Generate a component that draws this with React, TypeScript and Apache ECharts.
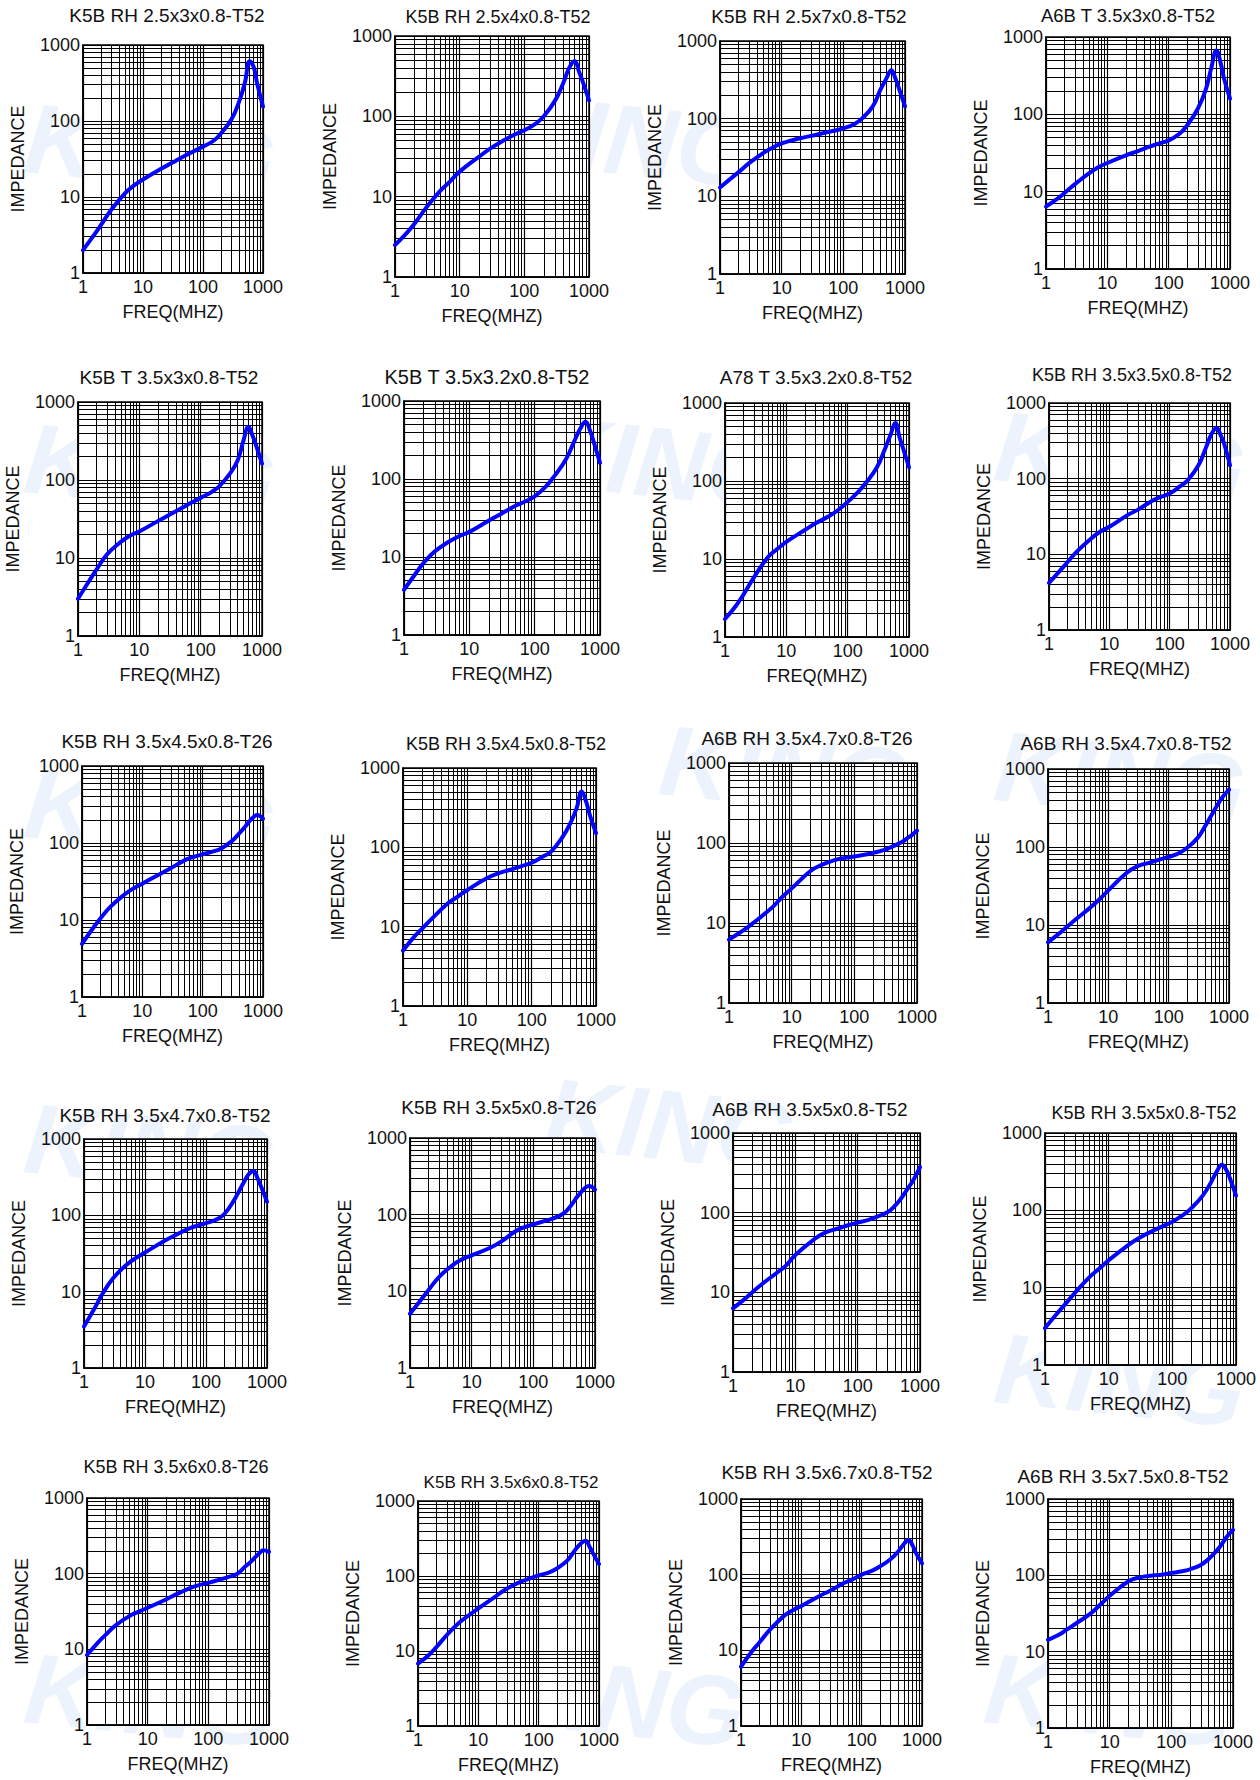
import React, { useEffect, useRef } from "react";
import * as echarts from "echarts";

// ---------- DATA ----------
const TITLES = [
  "K5B RH 2.5x3x0.8-T52",
  "K5B RH 2.5x4x0.8-T52",
  "K5B RH 2.5x7x0.8-T52",
  "A6B T 3.5x3x0.8-T52",
  "K5B T 3.5x3x0.8-T52",
  "K5B T 3.5x3.2x0.8-T52",
  "A78 T 3.5x3.2x0.8-T52",
  "K5B RH 3.5x3.5x0.8-T52",
  "K5B RH 3.5x4.5x0.8-T26",
  "K5B RH 3.5x4.5x0.8-T52",
  "A6B RH 3.5x4.7x0.8-T26",
  "A6B RH 3.5x4.7x0.8-T52",
  "K5B RH 3.5x4.7x0.8-T52",
  "K5B RH 3.5x5x0.8-T26",
  "A6B RH 3.5x5x0.8-T52",
  "K5B RH 3.5x5x0.8-T52",
  "K5B RH 3.5x6x0.8-T26",
  "K5B RH 3.5x6x0.8-T52",
  "K5B RH 3.5x6.7x0.8-T52",
  "A6B RH 3.5x7.5x0.8-T52",
];

const FREQ = [1, 1.5, 2, 3, 5, 7, 10, 20, 30, 50, 70, 100, 150, 200, 300, 400, 500, 600, 700, 800, 1000];

const Z1 = [2.0, 3.1, 4.3, 6.9, 11.2, 14.1, 17, 23.5, 28, 35, 40, 46, 55, 69, 106, 180, 320, 610, 510, 310, 155];
const Z2 = [2.5, 3.5, 4.6, 7.2, 11.8, 15.3, 20.5, 31.5, 40, 51, 59, 67, 81, 100, 158, 260, 410, 490, 360, 270, 158];
const Z3 = [13, 17, 20.5, 27, 36, 42, 48, 56, 60, 66, 70, 75, 85, 100, 144, 236, 330, 420, 328, 244, 144];
const Z4 = [6.4, 8, 9.6, 12.6, 17.2, 20.5, 23.5, 29.5, 33, 38.5, 42, 46, 56, 72, 119, 205, 410, 670, 470, 290, 160];
const Z5 = [3, 5, 7.1, 11.2, 16.1, 19.3, 21.9, 29.7, 35.4, 44, 51, 59, 70, 83, 121, 178, 323, 480, 372, 279, 162];
const Z6 = [3.8, 6.1, 8.4, 11.9, 15.9, 18.5, 21, 29.4, 35.4, 45, 51, 60, 81, 109, 178, 299, 443, 540, 422, 299, 161];
const Z7 = [1.7, 2.5, 3.5, 5.9, 10.5, 13.3, 16.6, 23.5, 28.7, 35.5, 42.5, 54, 73, 95.5, 150, 251, 392, 553, 366, 263, 150];
const Z8 = [4.2, 6.0, 7.8, 11.2, 16.2, 19.9, 23.1, 33, 39, 50.4, 57, 63.7, 79.6, 95.5, 150, 258, 397, 468, 375, 291, 150];
const Z9 = [4.9, 7.7, 10.4, 15, 21.3, 25.5, 29.6, 40, 47.3, 59.5, 65.8, 71.2, 78, 84.4, 105, 132, 161, 193, 218, 231, 207];
const Z10 = [5, 7.5, 9.5, 13.3, 19.7, 23.8, 29, 40.7, 47, 53, 58, 64, 76.5, 88.5, 134, 202, 312, 507, 379, 257, 151];
const Z11 = [6.2, 7.6, 8.9, 11.4, 15.9, 21, 27.1, 44.7, 53.2, 61.5, 65.1, 67.7, 71.7, 75.2, 82, 90, 97.5, 105, 115, 123, 143];
const Z12 = [6, 7.7, 9.3, 12.1, 16.7, 21.1, 27.8, 46.4, 56.5, 63.6, 68.8, 74.5, 83.8, 97, 130, 184, 247, 316, 385, 446, 543];
const Z13 = [3.5, 6.1, 9.3, 15, 22.5, 27.5, 32.6, 45.4, 53.9, 65.9, 72.8, 78.9, 88.5, 104, 167, 255, 345, 382, 306, 238, 151];
const Z14 = [5.1, 7.7, 10.4, 15.6, 22.2, 26.1, 29.5, 37, 44.4, 59.9, 68.2, 74.6, 82.4, 88.4, 102, 129, 166, 198, 226, 237, 213];
const Z15 = [6.3, 8.1, 9.9, 12.9, 17.5, 21.5, 29.4, 46.3, 56.2, 63.7, 69.5, 75.1, 81.2, 88.5, 101, 123, 152, 188, 224, 264, 373];
const Z16 = [3, 4.5, 5.9, 8.7, 13.7, 17.4, 22.6, 35.3, 43.9, 54.6, 62.1, 71.3, 87.9, 107, 155, 226, 319, 389, 336, 262, 155];
const Z17 = [8.4, 12.2, 15.4, 20.9, 27.5, 31.3, 35.4, 45.6, 53.6, 64.3, 70.4, 75.6, 82.9, 88.9, 100, 123, 143, 167, 188, 204, 194];
const Z18 = [6.8, 8.8, 11.2, 16.3, 24.5, 30, 36.9, 54.4, 68.1, 83.5, 92.5, 102, 112, 126, 162, 221, 271, 294, 244, 199, 144];
const Z19 = [6.1, 9.6, 12.6, 18.6, 27.9, 33.4, 38.5, 52.3, 61.4, 76.8, 86.7, 100, 113, 128, 160, 201, 254, 287, 242, 191, 141];
const Z20 = [14.3, 16.6, 19.4, 24.1, 32, 41.1, 53.9, 83, 93.6, 99.4, 102, 107, 113, 120, 137, 163, 195, 231, 277, 322, 393];

const IMPEDANCES = [Z1, Z2, Z3, Z4, Z5, Z6, Z7, Z8, Z9, Z10, Z11, Z12, Z13, Z14, Z15, Z16, Z17, Z18, Z19, Z20];

// log-paper minor grid values (2..9 in each decade)
const MINOR_GRID = [2, 3, 4, 5, 6, 7, 8, 9, 20, 30, 40, 50, 60, 70, 80, 90, 200, 300, 400, 500, 600, 700, 800, 900];

const X_NAME = "FREQ(MHZ)";
const Y_NAME = "IMPEDANCE";
const WATERMARK = "KING";

// ---------- LAYOUT (pixels) ----------
// [left, top, width, height] of each plot area
const BOXES = [
  [83, 45, 180, 228], [395, 36, 194, 241], [720, 41, 185, 233], [1046, 37, 184, 232],
  [78, 402, 184, 234], [404, 401, 196, 234], [725, 403, 184, 234], [1049, 403, 181, 227],
  [82, 766, 181, 231], [403, 768, 193, 238], [729, 763, 188, 240], [1048, 769, 181, 234],
  [84, 1139, 183, 229], [410, 1138, 185, 230], [733, 1133, 187, 239], [1045, 1133, 191, 232],
  [87, 1498, 182, 227], [418, 1501, 181, 225], [741, 1499, 181, 227], [1048, 1499, 185, 229],
];
// title centers
const TITLE_POS = [
  [167, 15], [498, 17], [809, 16], [1128, 15],
  [169, 377], [487, 377], [816, 377], [1132, 375],
  [167, 741], [506, 744], [807, 738], [1126, 743],
  [165, 1115], [499, 1107], [810, 1109], [1144, 1113],
  [176, 1467], [511, 1482], [827, 1472], [1123, 1476],
];
const TITLE_SIZE = [
  19, 18, 19, 18.5,
  19, 20, 19, 18,
  19, 18, 19, 19,
  19, 19, 19, 18,
  18, 17, 19, 19,
];
// faint background watermark centers
const WATERMARK_POS = [
  [150, 150], [630, 140], [150, 470], [660, 462], [1120, 458],
  [150, 815], [785, 772], [1120, 778], [150, 1150], [670, 1125],
  [1120, 1380], [150, 1700], [620, 1700], [1110, 1700],
];

const FONT = "'Liberation Sans', Arial, Helvetica, sans-serif";

export default function App() {
  const ref = useRef<HTMLDivElement>(null);

  useEffect(() => {
    if (!ref.current) return;
    const chart = echarts.init(ref.current, null, { renderer: "svg" });

    const grid = BOXES.map(([l, t, w, h]) => ({
      left: l, top: t, width: w, height: h,
      show: true, backgroundColor: "#ffffff", borderColor: "#000", borderWidth: 1.5,
    }));

    const labelFmt = (v: number) => String(Math.round(v));

    const xAxis = BOXES.map((_, i) => ({
      type: "log", logBase: 10, gridIndex: i, min: 1, max: 1000,
      name: X_NAME, nameLocation: "middle", nameGap: 30,
      nameTextStyle: { fontSize: 18, color: "#111", fontFamily: FONT },
      axisLine: { show: true, lineStyle: { color: "#000", width: 1.5 } },
      axisTick: { show: false },
      axisLabel: { fontSize: 18, color: "#111", fontFamily: FONT, margin: 5, formatter: labelFmt },
      splitLine: { show: true, lineStyle: { color: "#000", width: 1.2 } },
    }));

    const yAxis = BOXES.map((_, i) => ({
      type: "log", logBase: 10, gridIndex: i, min: 1, max: 1000,
      name: Y_NAME, nameLocation: "middle", nameGap: 56,
      nameTextStyle: { fontSize: 18, color: "#111", fontFamily: FONT },
      axisLine: { show: true, lineStyle: { color: "#000", width: 1.5 } },
      axisTick: { show: false },
      axisLabel: { fontSize: 18, color: "#111", fontFamily: FONT, margin: 3, formatter: labelFmt },
      splitLine: { show: true, lineStyle: { color: "#000", width: 1.2 } },
    }));

    const series = IMPEDANCES.map((vals, i) => ({
      type: "line",
      xAxisIndex: i,
      yAxisIndex: i,
      data: FREQ.map((f, j) => [f, vals[j]]),
      showSymbol: false,
      symbol: "none",
      smooth: 0.45,
      z: 4,
      lineStyle: { color: "#0505ff", width: 4, cap: "round", join: "round" },
      markLine: {
        silent: true,
        z: 1,
        symbol: ["none", "none"],
        label: { show: false },
        emphasis: { disabled: true },
        animation: false,
        lineStyle: { color: "#000", width: 1, type: "solid" },
        data: [
          ...MINOR_GRID.map((v) => ({ xAxis: v })),
          ...MINOR_GRID.map((v) => ({ yAxis: v })),
        ],
      },
    }));

    const titles = TITLES.map((t, i) => ({
      type: "text",
      x: TITLE_POS[i][0],
      y: TITLE_POS[i][1],
      z: 10,
      silent: true,
      style: {
        text: t,
        fill: "#111",
        fontSize: TITLE_SIZE[i],
        fontFamily: FONT,
        align: "center",
        verticalAlign: "middle",
        textAlign: "center",
        textVerticalAlign: "middle",
      },
    }));

    chart.setOption({
      animation: false,
      backgroundColor: "transparent",
      grid,
      xAxis,
      yAxis,
      series,
      graphic: { elements: titles },
    });

    return () => chart.dispose();
  }, []);

  return (
    <div style={{ position: "absolute", left: 0, top: 0, width: 1260, height: 1780, overflow: "hidden", background: "#fff" }}>
      {WATERMARK_POS.map(([x, y], i) => (
        <div
          key={i}
          style={{
            position: "absolute",
            left: x - 130,
            top: y - 60,
            width: 260,
            height: 120,
            lineHeight: "120px",
            textAlign: "center",
            fontFamily: FONT,
            fontWeight: 900,
            fontStyle: "italic",
            fontSize: 100,
            color: "#edf3fc",
            transform: "rotate(6deg)",
            userSelect: "none",
          }}
        >
          {WATERMARK}
        </div>
      ))}
      <div
        ref={ref}
        style={{ position: "absolute", left: 0, top: 0, width: 1260, height: 1780 }}
      />
    </div>
  );
}
